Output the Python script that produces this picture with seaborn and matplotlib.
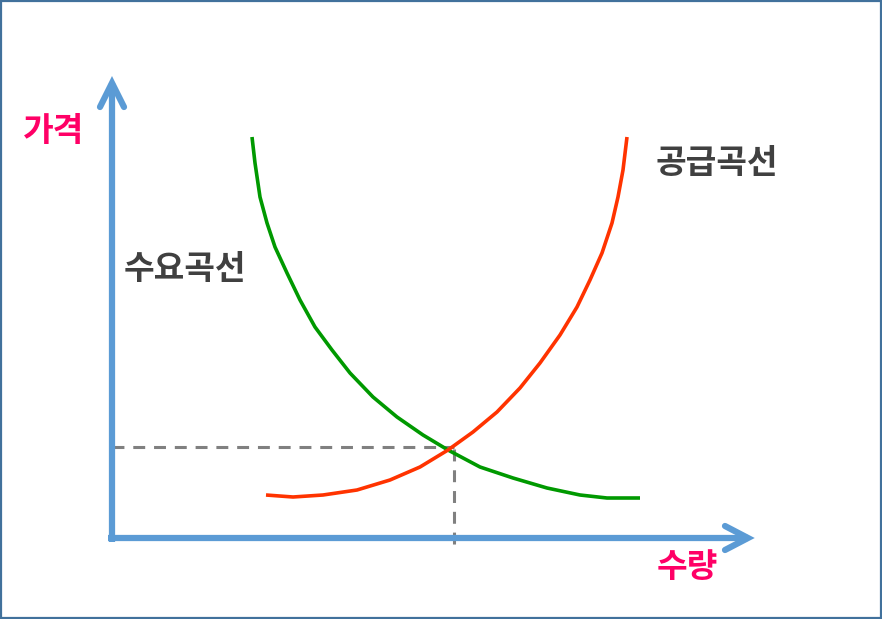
import matplotlib
matplotlib.use("Agg")
import matplotlib.pyplot as plt
import seaborn as sns
import pandas as pd
from matplotlib.patches import Rectangle

# points (quantity, price), origin at the axes corner
demand_q = [140, 143, 148, 155, 163, 175, 188, 203, 220, 238, 261, 285, 311, 336,
            368, 401, 435, 468, 495, 528]
demand_p = [401, 375, 341, 315, 291, 265, 238, 211, 188, 165, 141, 121, 103, 88,
            71, 60, 50, 43, 40, 40]
supply_q = [154, 181, 211, 245, 278, 308, 336, 361, 385, 408, 428, 448, 465, 478,
            490, 500, 506, 511, 515]
supply_p = [43, 41, 43, 48, 58, 71, 88, 106, 126, 150, 175, 203, 231, 258,
            285, 315, 341, 368, 401]
eq_q, eq_p = 342, 91

axis_len_q = 636
axis_len_p = 455

sns.set_theme(style="white")
plt.rcParams['font.family'] = ['Noto Sans CJK KR', 'DejaVu Sans']

fig = plt.figure(figsize=(8.82, 6.19), dpi=100)
ax = fig.add_axes([0, 0, 1, 1])

blue = "#5B9BD5"
pink = "#FF0066"
gray_txt = "#404040"

# equilibrium guide lines
ax.plot([0, eq_q], [eq_p, eq_p], color="#808080", lw=2.2, dashes=(3.9, 2.9), zorder=1)
ax.plot([eq_q, eq_q], [eq_p - 2, -8], color="#808080", lw=2.2, dashes=(3.9, 2.9), zorder=1)

# axes with open arrow heads
ax.plot([0, 0], [-4, axis_len_p], color=blue, lw=4.5, solid_capstyle="butt", zorder=2)
ax.plot([-4, axis_len_q], [0, 0], color=blue, lw=4.5, solid_capstyle="butt", zorder=2)
ax.plot([-12, 0, 12], [431, axis_len_p, 431], color=blue, lw=4.5,
        solid_capstyle="round", solid_joinstyle="miter", zorder=2)
ax.plot([613, axis_len_q, 613], [12, 0, -12], color=blue, lw=4.5,
        solid_capstyle="round", solid_joinstyle="miter", zorder=2)

df_d = pd.DataFrame({"q": demand_q, "p": demand_p})
df_s = pd.DataFrame({"q": supply_q, "p": supply_p})
sns.lineplot(data=df_d, x="q", y="p", sort=False, color="#009900", lw=2.6, ax=ax, zorder=3)
sns.lineplot(data=df_s, x="q", y="p", sort=False, color="#FF3300", lw=2.6, ax=ax, zorder=3)
for ln in ax.lines[-2:]:
    ln.set_solid_joinstyle("round")
    ln.set_solid_capstyle("butt")

ax.set_xlim(-112, 770)
ax.set_ylim(-81, 538)
ax.set_xlabel("")
ax.set_ylabel("")
ax.axis("off")

ax.text(-58, 407, "가격", color=pink, fontsize=24, fontweight="bold", ha="center", va="center")
ax.text(575, -29, "수량", color=pink, fontsize=24, fontweight="bold", ha="center", va="center")
ax.text(73, 268, "수요곡선", color=gray_txt, fontsize=24, fontweight="bold", ha="center", va="center")
ax.text(605, 375, "공급곡선", color=gray_txt, fontsize=24, fontweight="bold", ha="center", va="center")

fig.patches.append(Rectangle((0.001, 0.0016), 0.998, 0.9968, transform=fig.transFigure,
                             fill=False, edgecolor="#41719C", lw=1.6))

fig.savefig("out.png", dpi=100)
